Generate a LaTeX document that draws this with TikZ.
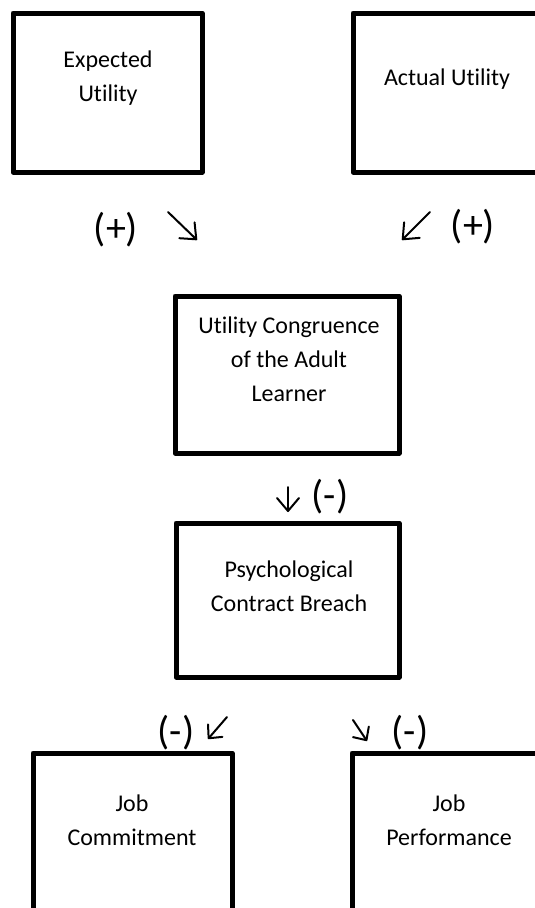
\documentclass[tikz,border=0pt]{standalone}
\usepackage{fontspec}
\setmainfont{Carlito}[Ligatures=NoCommon]
\usetikzlibrary{arrows.meta}

\tikzset{
  box/.style={draw, line width=5pt, line join=round, inner sep=0pt},
  % multi-line texts are anchored at the baseline of their last line
  boxtext/.style={inner sep=0pt, align=center, anchor=base,
    font={\fontsize{24}{34}\selectfont}},
  sign/.style={inner sep=0pt, font={\fontsize{40}{44}\selectfont}},
  glyph/.style={line width=2pt, line cap=round,
    -{Straight Barb[length=13pt, width=22pt, round]}},
  glyphsmall/.style={line width=2pt, line cap=round,
    -{Straight Barb[length=10pt, width=19pt, round]}}
}

\begin{document}
\begin{tikzpicture}[x=1pt, y=-1pt]
  \useasboundingbox (0,0) rectangle (535,908);
  \fill[white] (0,0) rectangle (535,908);
  \clip (0,0) rectangle (535,908);

  % boxes
  \node[box, minimum width=189pt, minimum height=159pt] (exp) at (107.5,92.5) {};
  \node[box, minimum width=189pt, minimum height=159pt] (act) at (447.5,92.5) {};
  \node[box, minimum width=224pt, minimum height=157pt] (ucg) at (287,374.5) {};
  \node[box, minimum width=223pt, minimum height=154pt] (pcb) at (287.5,600) {};
  \node[box, minimum width=199pt, minimum height=162pt] (jc) at (132.5,834) {};
  \node[box, minimum width=194pt, minimum height=162pt] (jp) at (449,834) {};

  % box texts
  \node[boxtext] (exp-t) at (108,101) {Expected\\Utility};
  \node[boxtext] (act-t) at (447,85) {Actual Utility};
  \node[boxtext] (ucg-t) at (289,401) {Utility Congruence\\of the Adult\\Learner};
  \node[boxtext] (pcb-t) at (289,611) {Psychological\\Contract Breach};
  \node[boxtext] (jc-t) at (132,845) {Job\\Commitment};
  \node[boxtext] (jp-t) at (449,845) {Job\\Performance};

  % signs
  \node[sign] (s1) at (116,230) {(+)};
  \node[sign] (s2) at (473,227) {(+)};
  \node[sign] (s3) at (330,497) {(-)};
  \node[sign] (s4) at (176,733) {(-)};
  \node[sign] (s5) at (410,733) {(-)};

  % arrow glyphs
  \coordinate (a1s) at (168,212); \coordinate (a1e) at (197,240);
  \coordinate (a2s) at (430,212); \coordinate (a2e) at (402,240);
  \coordinate (a3s) at (288,487); \coordinate (a3e) at (288,512);
  \coordinate (a4s) at (227,717); \coordinate (a4e) at (208,739);
  \coordinate (a5s) at (353,720); \coordinate (a5e) at (367,741);
  \draw[glyph] (a1s) -- (a1e);
  \draw[glyph] (a2s) -- (a2e);
  \draw[glyph] (a3s) -- (a3e);
  \draw[glyphsmall] (a4s) -- (a4e);
  \draw[glyphsmall] (a5s) -- (a5e);
\end{tikzpicture}
\end{document}
